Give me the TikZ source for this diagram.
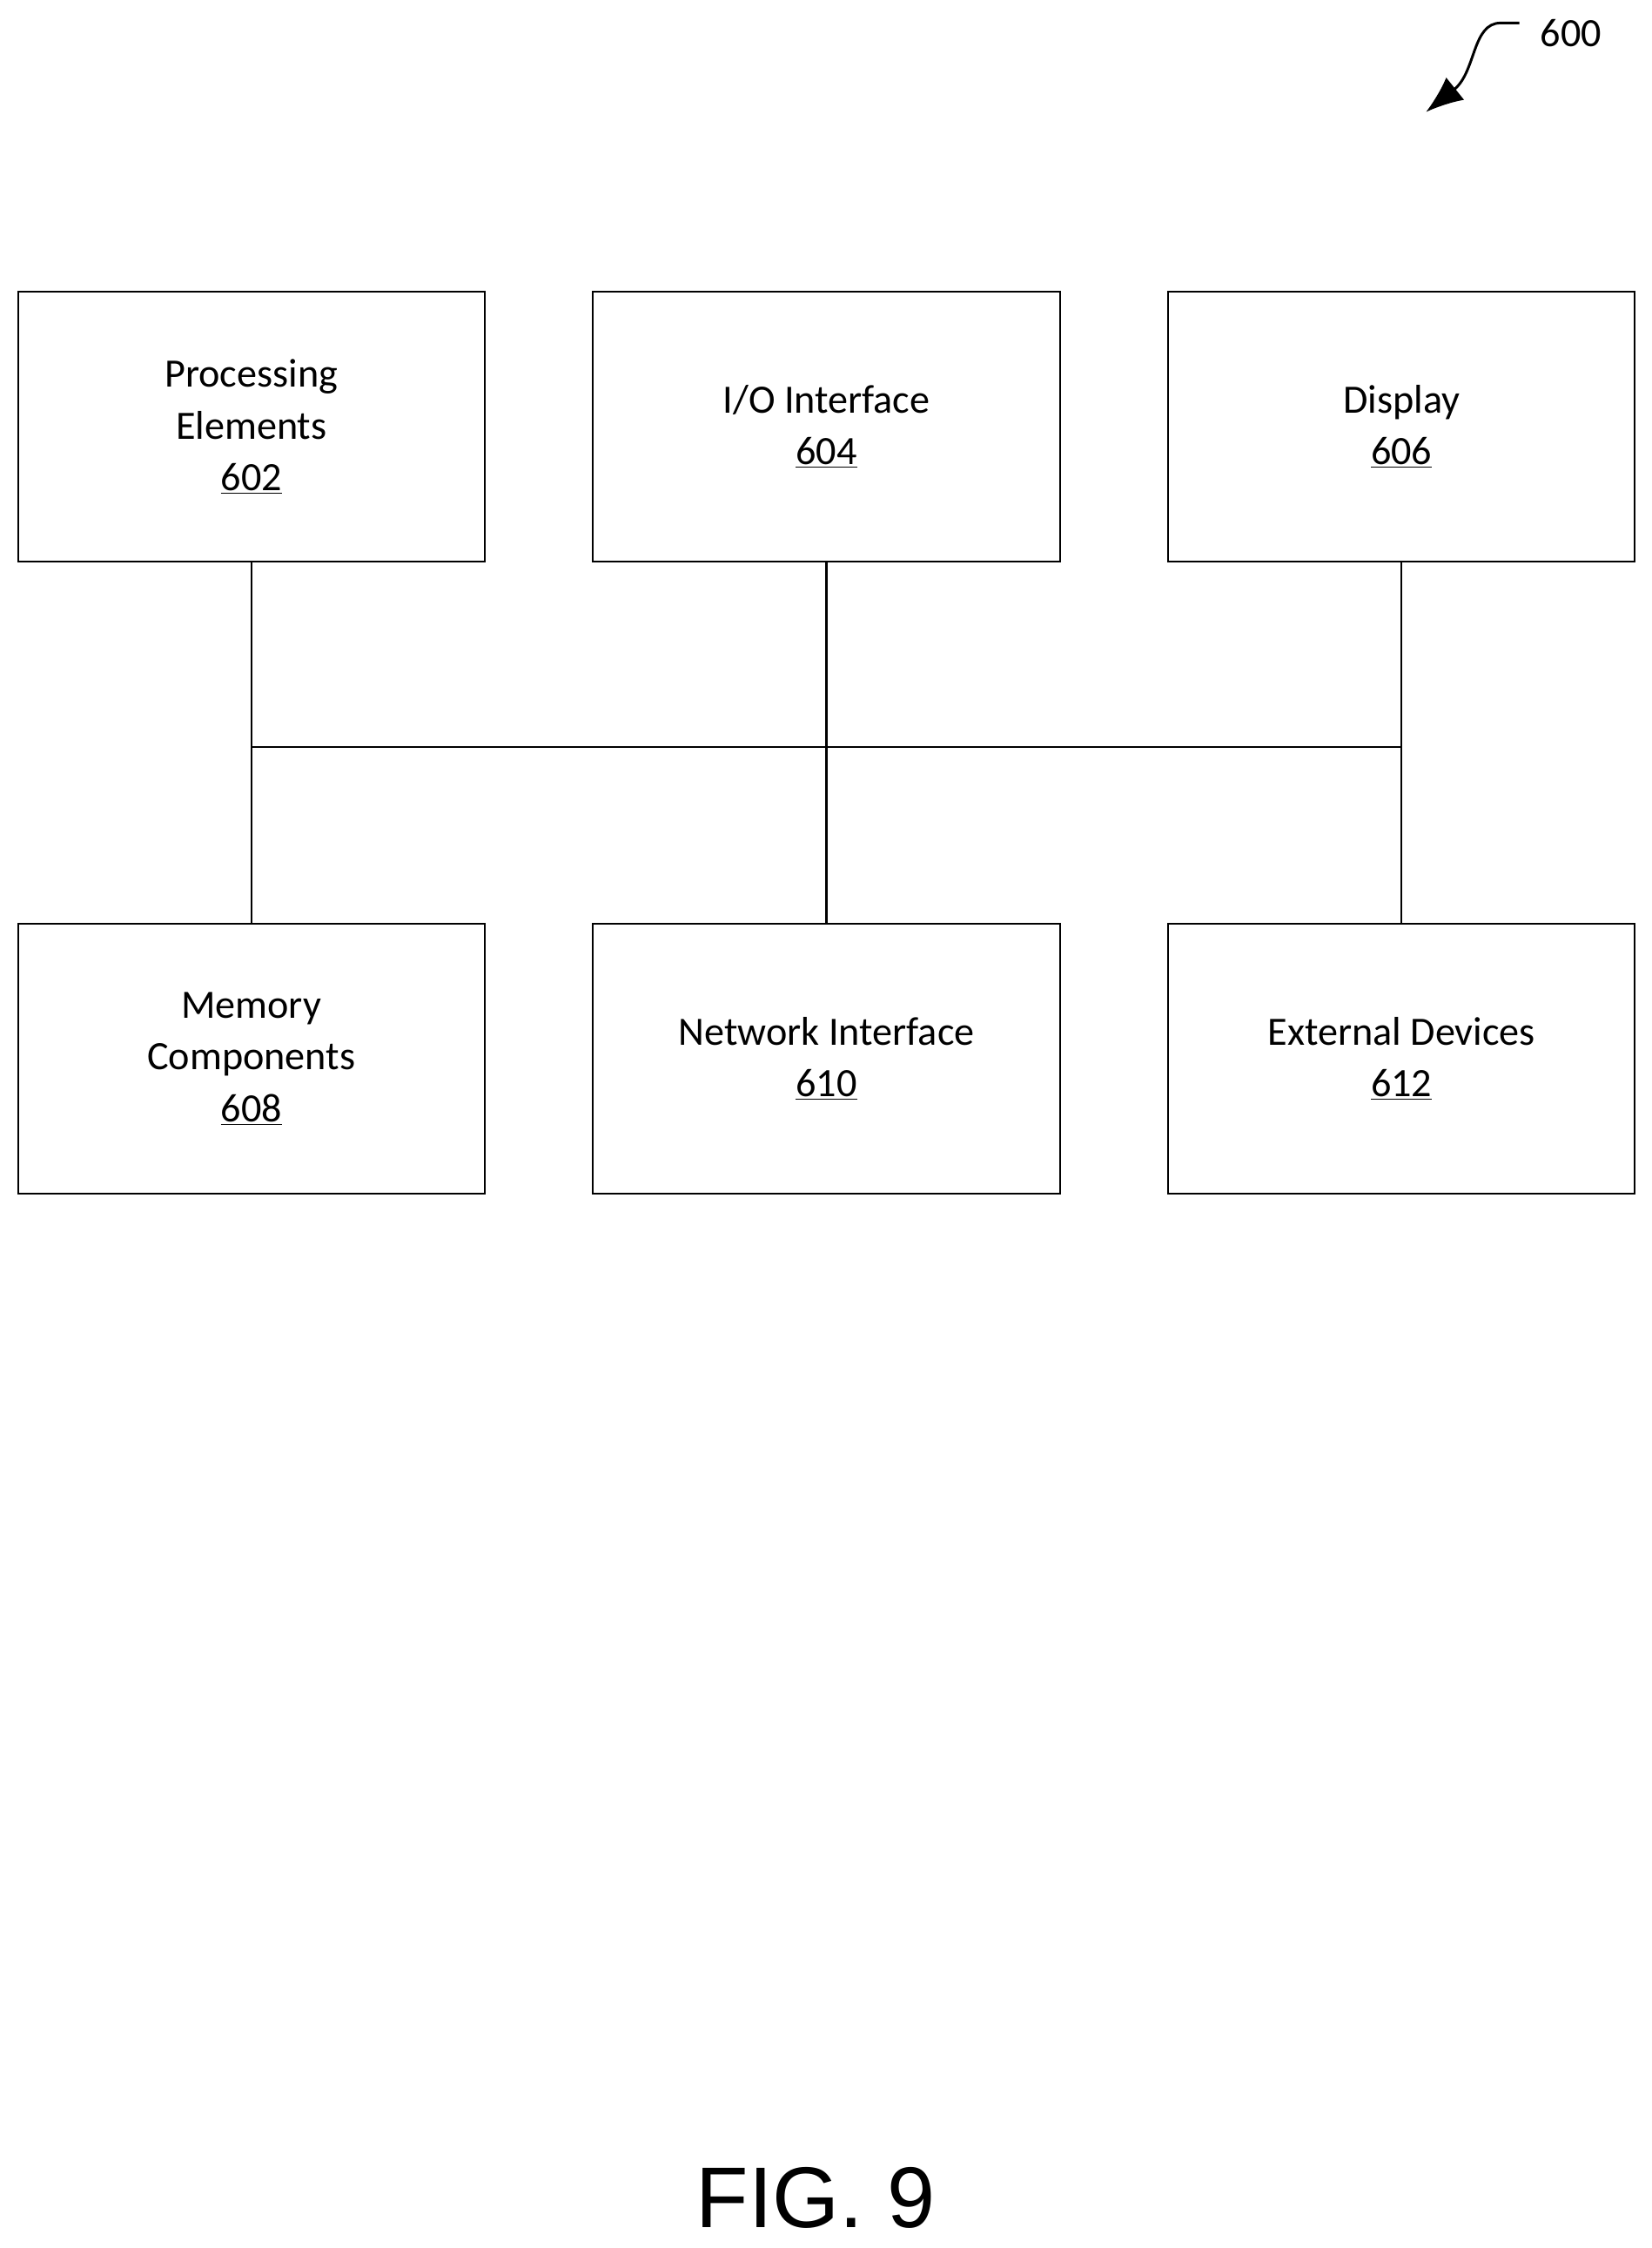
\documentclass[tikz,border=0pt]{standalone}
\usepackage{fontspec}
\setmainfont{Carlito}
\newfontfamily\arialf{Liberation Sans}
\usetikzlibrary{arrows.meta}
\begin{document}
\begin{tikzpicture}[x=1pt,y=-1pt,
  blk/.style={draw,line width=1.3pt,minimum width=325pt,minimum height=188pt,align=center,font=\fontsize{28}{36}\selectfont,inner sep=0pt},
  ln/.style={line width=1.3pt}]
\useasboundingbox (0,0) rectangle (1150,1565);
\node[blk] (p) at (175,297) {Processing\\Elements\\\underline{602}};
\node[blk] (io) at (575.5,297) {I/O Interface\\\underline{604}};
\node[blk] (d) at (976,297) {Display\\\underline{606}};
\node[blk] (m) at (175,737) {Memory\\Components\\\underline{608}};
\node[blk] (n) at (575.5,737) {Network Interface\\\underline{610}};
\node[blk] (e) at (976,737) {External Devices\\\underline{612}};
\coordinate (bl) at (175,520);
\coordinate (br) at (976,520);
\draw[ln] (bl) -- (br);
\draw[ln] (p) -- (m);
\draw[ln] (io) -- (n);
\draw[ln] (d) -- (e);
\node[font=\fontsize{28}{30}\selectfont] (lab) at (1094,23) {600};
\coordinate (a0) at (1058,16);
\coordinate (a1) at (993,78);
\draw[line width=1.8pt,-{Latex[length=26pt,width=20pt]}] (a0) -- (1045,16) .. controls (1025,16) and (1028,50) .. (a1);
\node[font=\arialf\fontsize{60}{64}\selectfont] (fig) at (568,1530) {FIG. 9};
\end{tikzpicture}
\end{document}
